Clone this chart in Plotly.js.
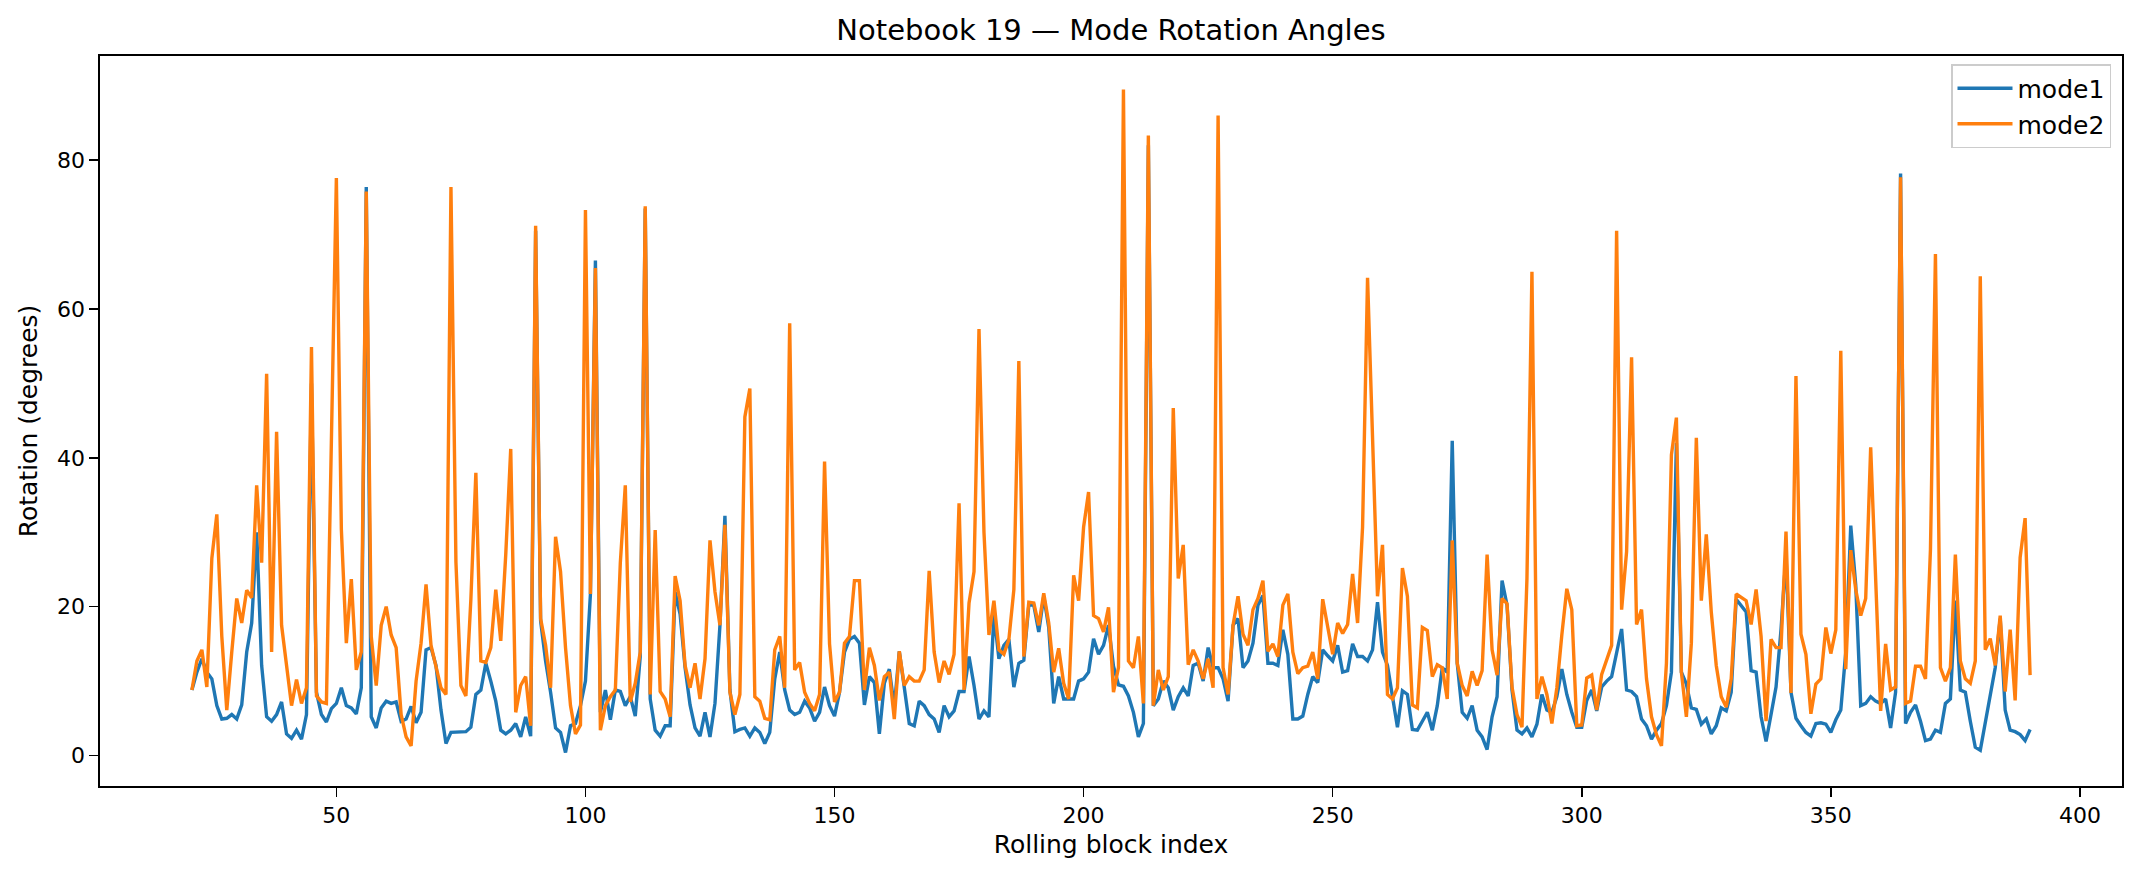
<!DOCTYPE html>
<html>
<head>
<meta charset="utf-8">
<script src="https://cdn.plot.ly/plotly-3.0.1.min.js"></script>
<style>
  html, body { margin: 0; padding: 0; background: #ffffff; }
  #chart { width: 2140px; height: 877px; }
</style>
</head>
<body>
<div id="chart"></div>
<script>
// Rotation angle (degrees) of each mode for rolling blocks 21..390
const firstBlock = 21;

const mode1 = [
  8.8, 11.2, 13.0, 11.2, 10.3, 6.7, 4.9, 5.0, 5.5, 4.9,
  6.8, 13.9, 17.8, 30.0, 12.1, 5.2, 4.6, 5.5, 7.2, 2.9,
  2.3, 3.4, 2.2, 5.5, 50.0, 8.5, 5.5, 4.5, 6.3, 7.0,
  9.1, 6.7, 6.4, 5.6, 9.1, 76.4, 5.2, 3.7, 6.4, 7.3,
  7.0, 7.2, 4.6, 4.9, 6.6, 4.4, 5.8, 14.2, 14.5, 12.1,
  6.1, 1.6, 3.1, 3.1, 3.2, 3.2, 3.8, 8.2, 8.8, 12.4,
  10.0, 7.3, 3.4, 2.9, 3.4, 4.3, 2.5, 5.2, 2.6, 70.5,
  18.1, 12.7, 8.5, 3.7, 3.1, 0.4, 4.0, 4.3, 6.7, 10.0,
  21.7, 66.5, 5.8, 8.8, 4.8, 8.8, 8.6, 6.7, 7.9, 5.3,
  13.3, 73.5, 7.6, 3.4, 2.6, 4.0, 4.0, 22.0, 19.0, 11.8,
  6.8, 3.7, 2.6, 5.8, 2.5, 7.0, 17.5, 32.2, 8.8, 3.2,
  3.5, 3.7, 2.6, 3.7, 3.1, 1.6, 3.1, 10.3, 13.9, 8.8,
  6.1, 5.5, 5.8, 7.3, 6.4, 4.6, 5.8, 9.2, 6.7, 5.3,
  8.5, 13.9, 15.6, 16.0, 15.1, 6.8, 10.6, 9.8, 2.9, 9.7,
  11.6, 6.5, 14.0, 9.0, 4.3, 4.0, 7.3, 6.7, 5.5, 4.9,
  3.1, 6.7, 5.2, 6.0, 8.6, 8.6, 13.3, 9.4, 4.9, 6.0,
  5.2, 19.0, 13.0, 14.8, 15.6, 9.2, 12.4, 12.8, 20.2, 20.2,
  16.6, 21.4, 17.2, 7.0, 10.6, 7.6, 7.6, 7.6, 10.0, 10.3,
  11.2, 15.7, 13.6, 14.8, 17.5, 12.0, 9.5, 9.3, 8.0, 5.8,
  2.5, 4.3, 82.0, 6.7, 7.6, 10.0, 9.1, 6.1, 7.9, 9.1,
  8.0, 12.1, 12.4, 10.0, 14.5, 11.8, 11.8, 10.3, 7.3, 17.5,
  18.4, 11.8, 12.7, 15.1, 20.2, 21.5, 12.4, 12.4, 12.1, 16.9,
  13.6, 4.9, 4.9, 5.3, 8.2, 10.6, 9.8, 14.2, 13.4, 12.7,
  14.8, 11.2, 11.4, 15.0, 13.3, 13.3, 12.7, 14.2, 20.6, 13.9,
  12.1, 7.9, 3.8, 8.7, 8.2, 3.5, 3.4, 4.6, 5.8, 3.4,
  6.7, 11.8, 11.2, 42.3, 12.4, 5.8, 5.0, 6.7, 3.4, 2.5,
  0.8, 5.2, 7.9, 23.5, 20.2, 8.8, 3.4, 2.9, 3.7, 2.5,
  4.2, 8.2, 6.1, 5.8, 7.9, 11.6, 8.2, 5.8, 3.8, 3.8,
  7.4, 8.8, 6.0, 9.2, 10.0, 10.6, 13.6, 17.0, 8.8, 8.6,
  7.9, 4.9, 4.0, 2.2, 3.4, 4.3, 6.7, 11.2, 42.0, 11.2,
  9.6, 6.4, 6.2, 4.2, 4.9, 2.9, 4.0, 6.4, 6.0, 8.5,
  21.0, 20.2, 19.3, 11.4, 11.2, 5.2, 1.9, 5.5, 9.2, 16.9,
  27.0, 8.5, 5.0, 4.0, 3.1, 2.6, 4.3, 4.4, 4.2, 3.1,
  4.8, 6.1, 13.9, 30.9, 22.9, 6.7, 7.0, 7.9, 7.3, 7.0,
  7.6, 3.7, 8.5, 78.2, 4.3, 5.8, 6.8, 4.6, 2.0, 2.2,
  3.4, 3.1, 7.0, 7.6, 20.8, 8.8, 8.5, 4.6, 1.1, 0.7,
  4.3, 7.9, 11.8, 18.4, 6.1, 3.4, 3.2, 2.8, 2.0, 3.5
];

const mode2 = [
  8.8, 12.7, 14.2, 9.2, 26.5, 32.4, 16.0, 6.1, 13.9, 21.1,
  17.8, 22.2, 21.2, 36.3, 25.9, 51.3, 13.9, 43.5, 17.5, 12.1,
  6.7, 10.2, 7.0, 9.1, 54.9, 8.0, 7.2, 7.0, 42.0, 77.6,
  30.4, 15.1, 23.7, 11.5, 13.9, 75.8, 16.0, 9.4, 17.5, 20.0,
  16.2, 14.5, 5.5, 2.5, 1.3, 10.0, 15.1, 23.0, 14.8, 12.1,
  9.1, 8.2, 76.4, 26.0, 9.4, 8.0, 21.0, 38.0, 12.7, 12.5,
  14.5, 22.3, 15.4, 27.0, 41.2, 5.8, 9.4, 10.6, 4.0, 71.2,
  18.4, 14.8, 9.1, 29.4, 24.7, 14.5, 6.7, 2.9, 4.1, 73.3,
  21.7, 65.5, 3.4, 6.7, 7.9, 8.8, 25.9, 36.3, 7.2, 9.7,
  13.9, 73.8, 8.2, 30.3, 8.6, 7.6, 5.2, 24.1, 20.8, 12.1,
  9.1, 12.4, 7.6, 13.0, 28.9, 22.0, 17.5, 31.0, 8.5, 5.5,
  8.2, 45.5, 49.3, 7.9, 7.3, 5.0, 4.8, 14.2, 16.0, 9.1,
  58.1, 11.5, 12.5, 8.5, 7.0, 6.0, 8.2, 39.5, 15.0, 7.2,
  8.5, 15.1, 16.0, 23.5, 23.5, 8.8, 14.5, 12.1, 7.4, 10.6,
  11.2, 4.9, 14.0, 9.4, 10.6, 10.0, 10.0, 11.5, 24.8, 13.9,
  9.8, 12.7, 10.9, 13.6, 33.9, 8.8, 20.5, 24.7, 57.3, 30.0,
  16.2, 20.8, 14.2, 13.6, 15.6, 22.3, 53.0, 13.3, 20.6, 20.5,
  17.5, 21.8, 17.8, 11.2, 14.4, 9.7, 7.6, 24.2, 20.8, 30.7,
  35.4, 18.8, 18.4, 16.6, 19.9, 8.5, 11.8, 89.5, 12.7, 11.8,
  16.0, 7.0, 83.3, 6.7, 11.5, 8.8, 10.6, 46.7, 23.8, 28.3,
  12.2, 14.2, 12.7, 10.3, 13.0, 9.1, 86.0, 11.8, 8.2, 17.5,
  21.4, 16.3, 14.8, 19.6, 21.1, 23.5, 14.0, 15.0, 13.3, 20.2,
  21.7, 13.9, 11.0, 11.8, 12.0, 13.9, 10.3, 21.0, 17.5, 13.6,
  17.8, 16.4, 17.6, 24.4, 17.8, 30.7, 64.2, 42.0, 21.4, 28.3,
  8.2, 7.6, 9.1, 25.2, 21.4, 6.8, 6.4, 17.2, 16.8, 10.6,
  12.2, 11.8, 7.6, 28.9, 12.4, 9.4, 8.0, 11.3, 9.4, 11.4,
  27.0, 14.2, 10.8, 21.1, 20.4, 9.2, 5.5, 3.8, 23.8, 65.0,
  7.6, 10.6, 8.2, 4.3, 9.1, 16.2, 22.4, 19.6, 4.0, 4.1,
  10.4, 10.8, 6.1, 10.9, 13.0, 14.8, 70.5, 19.6, 27.4, 53.5,
  17.6, 19.6, 10.3, 5.2, 2.8, 1.3, 12.4, 40.4, 45.4, 11.2,
  5.2, 15.1, 42.7, 20.8, 29.7, 19.3, 12.1, 7.9, 6.5, 10.3,
  21.7, 21.2, 20.8, 17.6, 22.3, 16.0, 4.6, 15.6, 14.5, 14.5,
  30.1, 8.4, 51.0, 16.3, 13.6, 5.6, 9.6, 10.3, 17.2, 13.7,
  16.9, 54.4, 11.6, 27.6, 22.3, 18.8, 21.1, 41.4, 25.0, 6.0,
  15.0, 8.8, 9.2, 77.7, 7.0, 7.3, 12.0, 12.0, 10.3, 27.7,
  67.4, 11.8, 10.0, 11.8, 27.0, 12.7, 10.3, 9.7, 12.7, 64.4,
  14.2, 15.7, 12.1, 18.8, 8.6, 16.9, 7.4, 26.6, 31.9, 10.8
];

const xTicks = [50, 100, 150, 200, 250, 300, 350, 400];
const yTicks = [0, 20, 40, 60, 80];

const blocks = mode1.map((_, i) => firstBlock + i);

const FONT = 'DejaVu Sans, sans-serif';

const traces = [
  { x: blocks, y: mode1, name: 'mode1', type: 'scatter', mode: 'lines',
    line: { color: '#1f77b4', width: 3.4 } },
  { x: blocks, y: mode2, name: 'mode2', type: 'scatter', mode: 'lines',
    line: { color: '#ff7f0e', width: 3.4 } }
];

const axisCommon = {
  showgrid: false, zeroline: false,
  showline: true, mirror: true, linecolor: '#000000', linewidth: 1.6,
  ticks: 'outside', ticklen: 9, tickwidth: 1.6, tickcolor: '#000000',
  tickfont: { family: FONT, size: 22, color: '#000000' }
};

const layout = {
  width: 2140, height: 877,
  paper_bgcolor: '#ffffff', plot_bgcolor: '#ffffff',
  margin: { l: 100, r: 18, t: 56, b: 91 },
  title: {
    text: 'Notebook 19 \u2014 Mode Rotation Angles',
    font: { family: FONT, size: 29, color: '#000000' },
    x: 0.5, xref: 'paper', xanchor: 'center',
    y: 1 - 30 / 877, yref: 'container', yanchor: 'middle'
  },
  xaxis: Object.assign({}, axisCommon, {
    range: [2.55, 408.45],
    tickvals: xTicks,
    title: { text: 'Rolling block index', standoff: 8,
             font: { family: FONT, size: 25, color: '#000000' } }
  }),
  yaxis: Object.assign({}, axisCommon, {
    range: [-4.1, 94],
    tickvals: yTicks,
    title: { text: 'Rotation (degrees)', standoff: 12,
             font: { family: FONT, size: 25, color: '#000000' } }
  }),
  showlegend: true,
  legend: {
    x: 1 - 11 / 2022, xanchor: 'right', xref: 'paper',
    y: 1 - 8 / 730, yanchor: 'top', yref: 'paper',
    bgcolor: 'rgba(255,255,255,0.8)', bordercolor: '#cccccc', borderwidth: 1.5,
    font: { family: FONT, size: 25, color: '#000000' },
    itemwidth: 55, tracegroupgap: 6
  }
};

Plotly.newPlot('chart', traces, layout, { displayModeBar: false, staticPlot: true });
</script>
</body>
</html>
